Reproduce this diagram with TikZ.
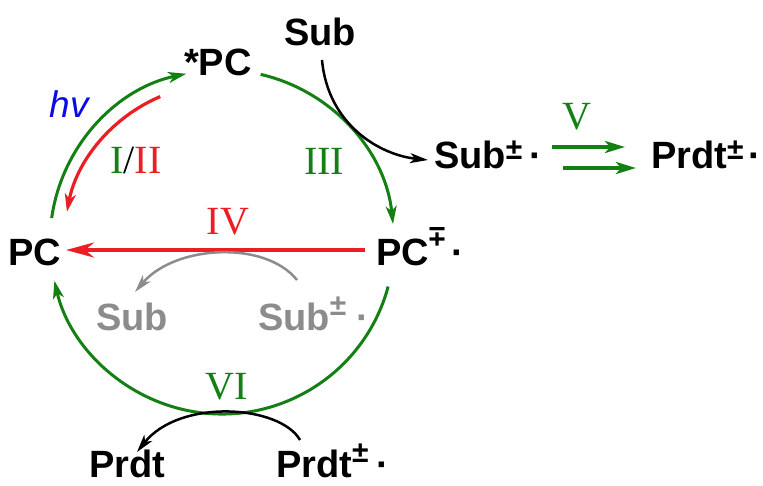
\documentclass[tikz,border=0pt]{standalone}
\usepackage{fontspec}
\usepackage{graphicx}
\setmainfont{Liberation Sans}
\newfontfamily\romfont{Liberation Serif}
\usetikzlibrary{arrows.meta,calc}
\definecolor{cgreen}{RGB}{20,128,20}
\definecolor{cred}{RGB}{235,30,35}
\definecolor{cgray}{RGB}{140,140,140}
\definecolor{cblue}{RGB}{10,10,230}
\newcommand{\pmup}[1]{\raisebox{#1pt}{\fontsize{30}{30}\selectfont\bfseries ±}}
\newcommand{\mpup}[1]{\raisebox{#1pt}{\rotatebox[origin=c]{180}{\fontsize{30}{30}\selectfont\bfseries ±}}}
\newcommand{\rdot}[1][6pt]{\hspace{#1}·}
\begin{document}
\begin{tikzpicture}[x=1pt,y=-1pt,
  chem/.style={inner sep=0pt, anchor=base west, font=\fontsize{38}{40}\selectfont\bfseries},
  roman/.style={inner sep=0pt, font=\fontsize{40}{42}\selectfont\romfont},
  garrow/.style={cgreen, line width=3pt, -{Stealth[length=18pt,width=11pt,inset=5pt]}},
  vgarrow/.style={cgreen, line width=3.6pt, -{Stealth[length=20pt,width=12pt,inset=5pt]}},
  rarrow/.style={cred, line width=3.2pt, -{Stealth[length=18pt,width=11pt,inset=5pt]}},
  bigred/.style={cred, line width=4pt, -{Stealth[length=28pt,width=15pt,inset=9pt]}},
  barrow/.style={black, line width=2.5pt, -{Stealth[length=18pt,width=10pt,inset=5pt]}},
  grarrow/.style={cgray, line width=2.5pt, -{Stealth[length=18pt,width=10pt,inset=5pt]}}]
\useasboundingbox (0,0) rectangle (763,485);
% species
\node[chem] (pcs) at (184,75) {*PC};
\node[chem] (sub) at (284,45) {Sub};
\node[chem] (subr) at (434,168) {Sub\pmup{9}\rdot[7pt]};
\node[chem] (prdtr) at (651,168) {Prdt\pmup{9}\rdot[5pt]};
\node[chem] (pc) at (8,265) {PC};
\node[chem] (pcr) at (376,265) {PC\mpup{19}\rdot[6pt]};
\node[chem, text=cgray] (subgr) at (258,330) {Sub\pmup{15}\rdot[10pt]};
\node[chem, text=cgray] (subg) at (96,330) {Sub};
\node[chem] (prdt) at (89,477) {Prdt};
\node[chem] (prdtb) at (276,477) {Prdt\pmup{15}\rdot[8pt]};
% labels
\node[roman, text=cgreen] (l3) at (324,161) {III};
\node[roman] (l12) at (136,161) {\textcolor{cgreen}{I}/\textcolor{cred}{II}};
\node[roman, text=cred] (l4) at (228,222) {IV};
\node[roman, text=cgreen] (l5) at (577,117) {V};
\node[roman, text=cgreen] (l6) at (227,387) {VI};
\node[inner sep=0pt, text=cblue, font=\fontsize{37}{39}\selectfont\itshape] (hv) at (69,104) {hv};
% cycle
\coordinate (O) at (222,242);
\coordinate (hvS) at ($(O)+(-172:172)$);
\coordinate (redS) at ($(O)+(-113:158)$);
\coordinate (iiiS) at ($(O)+(-77:172)$);
\coordinate (lowS) at ($(O)+(15:172)$);
\draw[garrow] (hvS) arc[start angle=-172, end angle=-102, radius=172];
\draw[rarrow] (redS) arc[start angle=-113, end angle=-169, radius=158];
\draw[garrow] (iiiS) arc[start angle=-77, end angle=-6, radius=172];
\draw[garrow] (lowS) arc[start angle=15, end angle=167, radius=172];
% IV
\coordinate (ivS) at (365,250);
\coordinate (ivE) at (66,250);
\draw[bigred] (ivS) -- (ivE);
% gray back electron transfer
\coordinate (gS) at (297,280);
\coordinate (gE) at (135,292);
\draw[grarrow] (gS) .. controls (265,240) and (175,245) .. (gE);
% substrate oxidation/reduction
\coordinate (sS) at (322,60);
\coordinate (sE) at (428,160);
\draw[barrow] (sS) .. controls (328,125) and (380,155) .. (sE);
% V
\coordinate (v1S) at (552,147);
\coordinate (v1E) at (625,147);
\coordinate (v2S) at (563,168);
\coordinate (v2E) at (636,168);
\draw[vgarrow] (v1S) -- (v1E);
\draw[vgarrow] (v2S) -- (v2E);
% VI
\coordinate (bS) at (300,440);
\coordinate (bE) at (137,452);
\draw[barrow] (bS) .. controls (280,405) and (180,398) .. (bE);
\end{tikzpicture}
\end{document}
